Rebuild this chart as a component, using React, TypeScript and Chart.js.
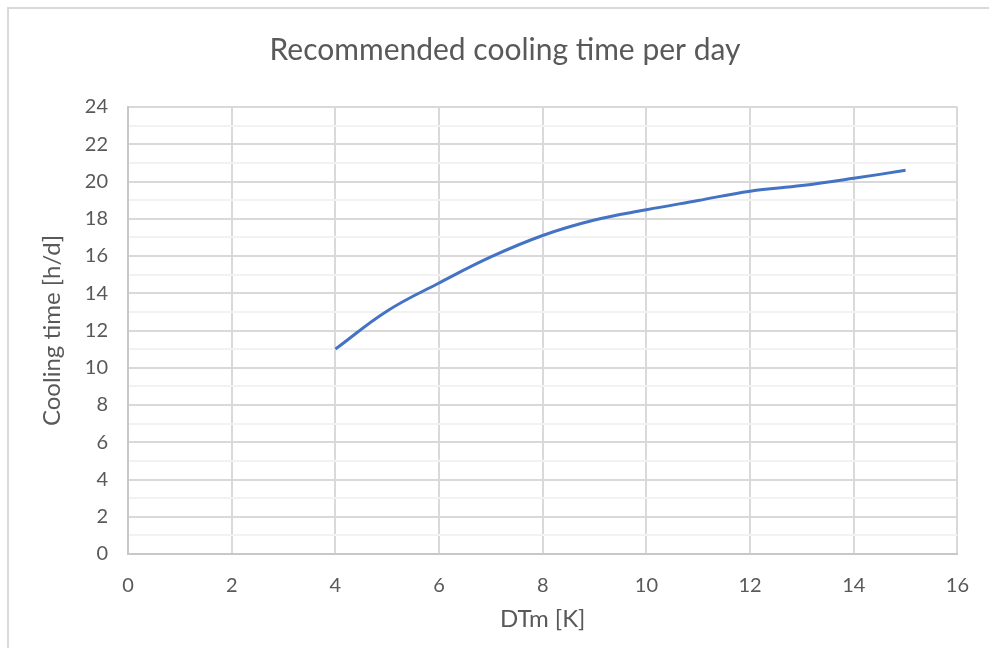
import React, { useEffect, useRef } from "react";
import { Chart, registerables } from "chart.js";

Chart.register(...registerables);

const xValues = [4, 5, 6, 7, 8, 9, 10, 11, 12, 13, 14, 15];
const coolingHours = [11.0, 13.05, 14.55, 15.95, 17.1, 17.93, 18.48, 18.98, 19.48, 19.78, 20.17, 20.6];
const titleText = "Recommended cooling time per day";
const xTitle = "DTm [K]";
const yTitle = "Cooling time [h/d]";

const FONT = "Lato, 'Open Sans', sans-serif";
const TEXT = "#595959";

export default function App() {
  const ref = useRef<HTMLCanvasElement | null>(null);

  useEffect(() => {
    if (!ref.current) return;
    const chart = new Chart(ref.current, {
      type: "line",
      data: {
        datasets: [
          {
            label: yTitle,
            data: xValues.map((x, i) => ({ x, y: coolingHours[i] })),
            borderColor: "#4472C4",
            backgroundColor: "#4472C4",
            borderWidth: 3,
            pointRadius: 0,
            tension: 0.4,
            fill: false,
          },
        ],
      },
      options: {
        animation: false,
        responsive: false,
        maintainAspectRatio: false,
        layout: { padding: { left: 52, right: 31, top: 0, bottom: 0 } },
        plugins: {
          legend: { display: false },
          tooltip: { enabled: false },
          title: {
            display: true,
            text: titleText,
            color: TEXT,
            font: { family: FONT, size: 30, weight: "normal", lineHeight: 1.2 },
            padding: { top: 32, bottom: 39 },
          },
        },
        scales: {
          x: {
            type: "linear",
            min: 0,
            max: 16,
            ticks: {
              stepSize: 2,
              color: TEXT,
              font: { family: FONT, size: 20 },
              padding: 20,
            },
            grid: { color: "#d9d9d9", lineWidth: 2, drawTicks: false },
            border: { color: "#c8c8c8", width: 2 },
            title: {
              display: true,
              text: xTitle,
              color: TEXT,
              font: { family: FONT, size: 24, lineHeight: 1.2 },
              padding: { top: 4, bottom: 14 },
            },
            afterFit: (s: any) => {
              s.height = 94;
            },
          },
          y: {
            type: "linear",
            min: 0,
            max: 24,
            ticks: {
              stepSize: 1,
              autoSkip: false,
              color: TEXT,
              font: { family: FONT, size: 20 },
              padding: 20,
              callback: (v: any) => (Number(v) % 2 === 0 ? String(v) : ""),
            },
            grid: {
              drawTicks: false,
              lineWidth: 2,
              color: (ctx: any) =>
                ctx.tick && Number(ctx.tick.value) % 2 === 0 ? "#d9d9d9" : "#f2f2f2",
            },
            border: { color: "#c8c8c8", width: 2 },
            title: {
              display: true,
              text: yTitle,
              color: TEXT,
              font: { family: FONT, size: 24, lineHeight: 1.2 },
              padding: { top: -14.4, bottom: 0 },
            },
            afterFit: (s: any) => {
              s.width = 76;
            },
          },
        },
      },
    });
    return () => chart.destroy();
  }, []);

  return (
    <div
      style={{
        position: "fixed",
        left: 0,
        top: 0,
        width: 989,
        height: 648,
        background: "#fff",
      }}
    >
      <div
        style={{
          position: "absolute",
          left: 7,
          top: 7,
          right: 0,
          bottom: 0,
          borderLeft: "2px solid #d9d9d9",
          borderTop: "2px solid #d9d9d9",
        }}
      />
      <canvas
        ref={ref}
        width={989}
        height={648}
        style={{ position: "absolute", left: 0, top: 0, width: 989, height: 648 }}
      />
    </div>
  );
}
